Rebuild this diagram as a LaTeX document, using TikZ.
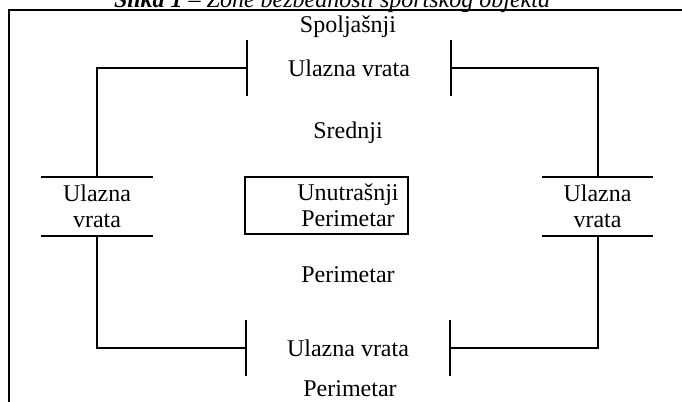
\documentclass[tikz,border=0pt]{standalone}
\usepackage{fontspec}
\setmainfont{Liberation Serif}
\tikzstyle{zone} = [font=\fontsize{12}{13}\selectfont, align=center, inner sep=0pt]
\tikzstyle{gateh} = [zone, minimum width=102pt, minimum height=28pt]
\tikzstyle{gatev} = [zone, minimum width=55.5pt, minimum height=29.5pt]
\tikzstyle{wall} = [line width=1pt]
\tikzstyle{innerbox} = [draw, wall, inner sep=0pt, minimum width=81.5pt, minimum height=28.5pt]

\begin{document}
\begin{tikzpicture}[x=0.5pt, y=-0.5pt]
            \useasboundingbox (0,0) rectangle (682,402);
            \node [zone, anchor=base] at (332,7) (title) {\textbf{\textit{Slika 1}} \textit{-- Zone bezbednosti sportskog objekta}};
            \draw [wall] (9,402) |- (682,10);

            \node [zone] at (348,27) (outer) {Spoljašnji};
            \node [gateh] at (349,68) (gateT) {Ulazna vrata};
            \node [zone] at (348,133) (middle) {Srednji};
            \node [gatev] at (97,206.5) (gateL) {Ulazna\\vrata};
            \node [gatev] at (597.5,206.5) (gateR) {Ulazna\\vrata};
            \node [innerbox] at (326.5,205.5) (inner) {};
            \node [zone] at (348,205.5) (innertext) {Unutrašnji\\Perimetar};
            \node [zone] at (348,275) (perim) {Perimetar};
            \node [gateh] at (348,348) (gateB) {Ulazna vrata};
            \node [zone] at (350,389) (perimB) {Perimetar};

            \draw [wall] (gateT.north west) -- (gateT.south west);
            \draw [wall] (gateT.north east) -- (gateT.south east);
            \draw [wall] (gateB.north west) -- (gateB.south west);
            \draw [wall] (gateB.north east) -- (gateB.south east);
            \draw [wall] (gateL.north west) -- (gateL.north east);
            \draw [wall] (gateL.south west) -- (gateL.south east);
            \draw [wall] (gateR.north west) -- (gateR.north east);
            \draw [wall] (gateR.south west) -- (gateR.south east);

            \draw [wall] (gateT.west) -| (gateL.north);
            \draw [wall] (gateT.east) -| (gateR.north);
            \draw [wall] (gateL.south) |- (gateB.west);
            \draw [wall] (gateR.south) |- (gateB.east);
\end{tikzpicture}
\end{document}
